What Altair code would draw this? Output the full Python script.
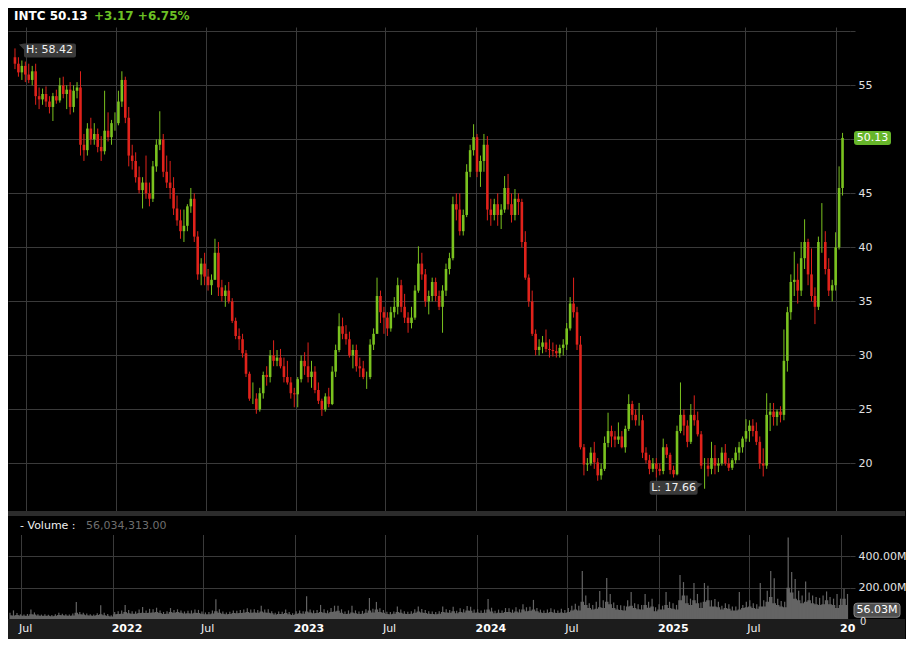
import altair as alt
import pandas as pd

# ---------------- data ----------------
ticker = "INTC"
last_price = 50.13
prev_close = 46.96
last_volume = 56034313
high_label = 58.42
low_label = 17.66
first_open = 57.6
first_week = "2021-06-07"   # Monday of the first weekly candle

close_2021 = [57.0, 56.2, 56.8, 56.0, 55.5, 56.3, 54.0, 53.7, 54.2, 53.5, 53.0, 54.0, 53.6, 55.0, 54.2,
              54.6, 53.0, 54.5, 54.8, 49.5, 49.0, 51.0, 50.0, 50.5, 49.3, 48.9, 50.8, 50.2, 51.5, 51.5]
high_2021 = [58.42, 57.6, 57.3, 57.2, 57.0, 56.8, 57.0, 54.8, 54.7, 54.9, 54.0, 54.3, 54.6, 55.7, 55.8,
             55.0, 55.3, 55.0, 55.3, 56.3, 50.5, 51.5, 52.0, 51.5, 51.0, 50.3, 54.5, 52.5, 51.8, 52.5]
low_2021 = [56.5, 55.8, 55.5, 55.3, 55.2, 55.0, 53.2, 52.8, 53.2, 53.0, 52.4, 51.7, 53.3, 53.4, 53.8,
            52.8, 52.3, 52.5, 53.8, 48.5, 48.0, 48.5, 49.5, 49.5, 48.8, 48.0, 48.6, 49.8, 49.5, 50.8]

close_2022 = [53.5, 55.5, 52.0, 48.5, 48.0, 46.5, 45.3, 46.0, 45.0, 44.5, 47.5, 49.5, 50.0, 47.0, 46.0,
              45.5, 43.6, 42.5, 41.5, 42.0, 43.8, 44.5, 41.0, 37.5, 38.5, 37.3, 36.5, 37.0, 39.5, 36.3,
              35.5, 36.0, 35.0, 33.2, 31.8, 31.5, 30.2, 28.3, 26.0, 26.0, 25.0, 26.5, 28.2, 28.0, 30.0,
              29.5, 29.8, 29.0, 28.0, 27.5, 26.5, 26.4]
high_2022 = [54.5, 56.3, 55.8, 53.0, 49.5, 48.8, 47.5, 46.5, 48.5, 46.0, 48.0, 50.0, 52.6, 50.5, 48.5,
             48.0, 46.5, 44.8, 43.5, 43.5, 44.0, 45.5, 45.0, 41.5, 39.0, 39.5, 38.0, 37.5, 40.8, 40.5,
             37.0, 36.5, 36.8, 35.3, 33.5, 32.5, 32.0, 30.5, 28.5, 27.5, 26.5, 27.0, 28.5, 29.0, 30.5,
             31.4, 30.5, 30.6, 29.8, 29.5, 28.0, 27.0]
low_2022 = [51.3, 53.0, 51.5, 47.5, 47.2, 46.0, 45.0, 43.6, 44.5, 43.8, 44.2, 47.0, 49.0, 46.5, 45.5,
            44.5, 43.0, 42.0, 40.8, 40.5, 41.5, 43.2, 40.5, 37.0, 36.5, 36.5, 36.0, 35.6, 37.0, 35.5,
            35.0, 34.5, 34.8, 33.0, 31.5, 30.5, 29.8, 28.0, 25.8, 25.5, 24.6, 24.8, 26.0, 27.2, 27.5,
            29.0, 29.0, 28.8, 27.5, 27.3, 26.0, 25.2]

close_2023 = [27.8, 29.5, 29.0, 28.0, 28.5, 26.8, 25.8, 25.0, 26.2, 25.5, 28.5, 30.5, 32.7, 32.0, 31.5,
              30.0, 30.5, 29.0, 28.8, 28.0, 28.0, 31.0, 32.0, 35.5, 34.0, 33.5, 32.5, 34.0, 34.5, 36.5,
              34.5, 33.5, 33.0, 33.5, 36.0, 38.5, 37.5, 35.0, 35.5, 36.8, 35.5, 34.5, 36.0, 38.0, 39.0,
              44.0, 43.5, 41.5, 43.0, 47.0, 49.0, 50.2]
high_2023 = [28.0, 30.0, 30.3, 31.2, 29.5, 29.0, 27.5, 26.0, 26.5, 27.0, 29.0, 31.0, 33.9, 33.5, 32.8,
             32.2, 31.0, 31.0, 29.8, 29.5, 28.5, 31.5, 32.5, 37.2, 36.0, 34.5, 34.0, 34.5, 35.4, 37.2,
             37.0, 35.7, 34.0, 34.5, 36.5, 40.1, 39.5, 38.0, 36.0, 37.2, 37.2, 36.0, 36.5, 38.5, 39.5,
             44.7, 45.0, 45.0, 43.5, 47.7, 49.5, 51.4]
low_2023 = [25.2, 27.5, 28.2, 27.5, 27.0, 26.5, 25.5, 24.4, 24.8, 25.2, 25.4, 28.0, 30.3, 31.5, 31.0,
            29.8, 28.8, 28.5, 28.0, 27.8, 26.9, 27.8, 30.5, 32.0, 33.0, 32.0, 31.8, 32.2, 33.5, 33.8,
            34.0, 33.0, 32.1, 32.5, 33.3, 35.8, 37.0, 34.5, 33.8, 35.0, 35.0, 34.2, 32.1, 35.5, 37.5,
            38.8, 42.5, 41.1, 41.1, 42.8, 46.5, 48.5]

close_2024 = [47.0, 48.0, 49.5, 43.5, 43.0, 44.0, 43.0, 43.5, 45.5, 44.0, 43.0, 44.5, 44.2, 40.5, 37.2,
              35.0, 32.0, 30.5, 30.8, 31.2, 30.6, 30.5, 30.4, 30.2, 30.7, 31.0, 32.5, 34.8, 34.0, 31.0,
              21.5, 19.9, 20.0, 21.0, 20.1, 18.9, 19.5, 21.9, 23.0, 22.5, 22.2, 22.5, 21.5, 23.2, 25.5,
              24.5, 24.0, 24.0, 21.0, 20.3, 19.5, 20.0, 19.5]
high_2024 = [50.5, 48.5, 50.5, 50.3, 44.5, 44.5, 45.0, 44.0, 46.6, 46.8, 45.0, 45.4, 45.0, 44.5, 41.5,
             37.5, 36.0, 32.4, 31.5, 31.8, 32.4, 31.5, 31.2, 31.0, 31.0, 31.5, 33.0, 35.4, 37.2, 34.5,
             31.8, 21.8, 20.5, 21.5, 22.0, 20.5, 20.0, 22.5, 24.7, 23.5, 23.0, 23.8, 23.0, 23.5, 26.4,
             25.8, 25.0, 25.6, 24.5, 21.5, 20.8, 20.5, 20.5]
low_2024 = [46.5, 45.6, 47.0, 42.5, 42.0, 42.5, 42.0, 41.7, 43.2, 43.5, 42.3, 42.5, 43.0, 40.0, 37.0,
            34.5, 31.8, 30.0, 30.0, 30.2, 30.3, 29.8, 29.9, 29.8, 29.8, 30.0, 30.5, 32.3, 33.5, 30.5,
            21.3, 18.9, 19.3, 19.8, 19.5, 18.4, 18.5, 19.3, 21.5, 21.5, 21.5, 21.8, 21.4, 21.0, 23.0,
            24.0, 23.5, 23.5, 20.5, 20.0, 19.0, 19.2, 18.7]

close_2025 = [19.3, 21.5, 20.8, 19.4, 19.0, 23.0, 24.5, 23.5, 22.0, 24.5, 24.0, 22.7, 19.8, 19.8, 19.5,
              20.5, 19.8, 20.0, 21.0, 20.0, 19.6, 20.3, 21.0, 21.5, 22.3, 23.0, 23.5, 23.0, 22.0, 20.0,
              19.8, 24.5, 24.8, 24.3, 24.8, 24.5, 29.5, 34.0, 36.8, 37.0, 36.0, 39.0, 40.5, 37.5, 35.5,
              34.5, 40.5, 40.5, 38.0, 36.0, 36.5, 40.0]
high_2025 = [20.0, 22.3, 21.8, 21.0, 19.8, 23.5, 27.5, 25.0, 24.0, 25.5, 26.3, 24.8, 23.0, 20.5, 20.5,
             22.0, 21.7, 20.5, 21.5, 21.8, 20.5, 20.5, 21.5, 22.0, 22.5, 24.1, 24.0, 24.1, 23.8, 22.5,
             21.4, 26.5, 25.6, 25.6, 25.0, 25.3, 32.4, 34.5, 37.5, 39.6, 38.5, 40.5, 42.6, 40.8, 39.9,
             36.3, 41.0, 44.1, 41.5, 39.0, 37.0, 41.4]
low_2025 = [18.9, 19.0, 20.5, 19.0, 18.7, 18.9, 22.8, 22.6, 21.5, 21.8, 23.5, 22.5, 19.5, 17.66, 18.8,
            19.0, 19.0, 19.2, 19.8, 19.8, 19.3, 19.4, 20.0, 20.3, 21.0, 22.0, 22.0, 22.5, 21.7, 19.5,
            18.8, 19.5, 23.0, 23.5, 23.5, 23.8, 24.0, 28.5, 33.3, 35.5, 34.8, 35.5, 38.0, 36.5, 35.0,
            32.9, 34.2, 39.5, 37.5, 35.5, 35.0, 36.0]

close_2026 = [45.5, 50.13]
high_2026 = [47.5, 50.6]
low_2026 = [39.8, 44.8]

# weekly volume in millions: typical daily level and the largest daily spike
vol_base_2021 = [24, 22, 26, 22, 20, 21, 30, 28, 22, 20, 21, 20, 18, 20, 26, 24, 22, 20, 22, 40,
                 30, 28, 24, 22, 20, 26, 30, 24, 20, 16]
vol_peak_2021 = [40, 55, 38, 30, 28, 32, 60, 42, 30, 28, 30, 27, 26, 30, 40, 34, 30, 28, 35, 109,
                 45, 40, 35, 30, 28, 36, 88, 40, 32, 24]
vol_base_2022 = [30, 32, 34, 45, 36, 34, 33, 38, 40, 38, 40, 42, 45, 38, 32, 34, 45, 40, 45, 40,
                 35, 36, 35, 40, 38, 34, 30, 30, 35, 50, 40, 34, 30, 32, 38, 36, 38, 40, 45, 40,
                 42, 40, 48, 42, 40, 36, 28, 32, 32, 38, 30, 25]
vol_peak_2022 = [45, 50, 55, 90, 58, 50, 48, 60, 77, 55, 65, 62, 72, 55, 45, 50, 70, 58, 62, 55,
                 48, 52, 55, 60, 58, 48, 42, 44, 55, 126, 62, 48, 42, 46, 55, 52, 58, 60, 68, 60,
                 62, 58, 85, 60, 62, 50, 40, 48, 46, 60, 44, 36]
vol_base_2023 = [34, 36, 34, 48, 42, 36, 38, 45, 40, 36, 45, 48, 52, 40, 32, 34, 42, 36, 32, 34,
                 40, 55, 42, 60, 45, 40, 32, 30, 33, 45, 40, 34, 32, 34, 40, 48, 42, 38, 34, 32,
                 30, 34, 45, 42, 40, 50, 36, 45, 42, 55, 52, 40]
vol_peak_2023 = [50, 55, 50, 145, 60, 55, 58, 90, 62, 55, 70, 85, 85, 62, 48, 55, 85, 55, 48, 52,
                 62, 134, 65, 109, 68, 58, 46, 44, 48, 80, 60, 50, 46, 50, 62, 80, 64, 58, 50, 48,
                 44, 50, 80, 62, 58, 78, 52, 68, 62, 83, 78, 60]
vol_base_2024 = [42, 38, 40, 60, 48, 36, 40, 38, 45, 44, 40, 48, 42, 60, 50, 52, 60, 50, 42, 38,
                 40, 45, 40, 38, 42, 38, 45, 55, 60, 55, 110, 90, 70, 60, 65, 75, 70, 110, 95, 70,
                 60, 58, 55, 80, 85, 70, 62, 60, 90, 72, 80, 50, 60]
vol_peak_2024 = [62, 55, 60, 128, 72, 52, 60, 55, 70, 68, 60, 75, 62, 95, 75, 78, 122, 70, 60, 55,
                 60, 68, 60, 55, 65, 58, 70, 85, 98, 85, 307, 150, 100, 90, 110, 179, 120, 262, 160, 105,
                 90, 88, 85, 120, 172, 100, 95, 90, 160, 110, 130, 75, 95]
vol_base_2025 = [60, 90, 70, 65, 60, 120, 150, 100, 90, 120, 100, 70, 110, 120, 80, 80, 75, 60, 70, 65,
                 55, 55, 60, 70, 75, 80, 70, 65, 80, 80, 110, 140, 100, 90, 80, 75, 200, 170, 130, 120,
                 100, 110, 120, 100, 95, 90, 95, 120, 95, 90, 70, 90]
vol_peak_2025 = [85, 172, 110, 100, 90, 281, 236, 150, 130, 230, 160, 105, 230, 213, 120, 128, 110, 85, 100, 95,
                 80, 80, 172, 90, 110, 120, 100, 95, 230, 120, 180, 307, 260, 130, 115, 110, 520, 300, 255, 180,
                 150, 240, 170, 150, 140, 135, 150, 176, 140, 130, 160, 130]
vol_base_2026 = [130, 90]
vol_peak_2026 = [194, 160]

month_labels = ["Jul", "Jul", "Jul", "Jul", "Jul"]
month_label_dates = ["2021-07-01", "2022-07-01", "2023-07-01", "2024-07-01", "2025-07-01"]
year_labels = ["2022", "2023", "2024", "2025"]
year_label_dates = ["2022-01-01", "2023-01-01", "2024-01-01", "2025-01-01"]
edge_year_label = "2026"            # cut off at the right edge of the plot, as in the reference
edge_year_date = "2026-01-01"
price_ticks = [20, 25, 30, 35, 40, 45, 50, 55, 60]
volume_ticks = [200, 400]
volume_zero_label = "0"

# ---------------- assemble ----------------
close = close_2021 + close_2022 + close_2023 + close_2024 + close_2025 + close_2026
high = high_2021 + high_2022 + high_2023 + high_2024 + high_2025 + high_2026
low = low_2021 + low_2022 + low_2023 + low_2024 + low_2025 + low_2026
vol_base = vol_base_2021 + vol_base_2022 + vol_base_2023 + vol_base_2024 + vol_base_2025 + vol_base_2026
vol_peak = vol_peak_2021 + vol_peak_2022 + vol_peak_2023 + vol_peak_2024 + vol_peak_2025 + vol_peak_2026
n = len(close)
assert len(high) == n and len(low) == n and len(vol_base) == n and len(vol_peak) == n

weeks = pd.date_range(first_week, periods=n, freq="W-MON")
df = pd.DataFrame({
    "date": (weeks + pd.Timedelta(days=2)).strftime("%Y-%m-%d"),
    "open": [first_open] + close[:-1],
    "high": high,
    "low": low,
    "close": close,
    "vol_base": vol_base,
    "vol_peak": vol_peak,
})

i_hi = high.index(max(high))
i_lo = low.index(min(low))
hi_df = pd.DataFrame({"date": [df["date"][i_hi]], "p": [high_label], "t": [f"H: {high_label:.2f}"]})
lo_df = pd.DataFrame({"date": [df["date"][i_lo]], "p": [low_label], "t": [f"L: {low_label:.2f}"]})
last_df = pd.DataFrame({"p": [last_price], "t": [f"{last_price:.2f}"]})
lastvol_df = pd.DataFrame({"v": [last_volume / 1e6], "t": [f"{last_volume / 1e6:.2f}M"]})
month_df = pd.DataFrame({"date": month_label_dates, "t": month_labels})
year_df = pd.DataFrame({"date": year_label_dates, "t": year_labels})
edge_df = pd.DataFrame({"date": [edge_year_date], "t": [edge_year_label]})
one = pd.DataFrame({"k": [0]})

change = last_price - prev_close
pct = change / prev_close * 100

# ---------------- style ----------------
W = 842
H_PRICE = 484
H_VOL = 108
BAND = 20
FONT = "DejaVu Sans"
GRID = "#3a3a3a"
LABEL = "#e2e2e2"
GREEN = "#7ac21f"
RED = "#e0221b"
VOLC = "#646464"

grid_dt = [alt.DateTime(year=int(s[:4]), month=int(s[5:7]), date=1)
           for s in sorted(month_label_dates + year_label_dates + [edge_year_date])]
x_scale = alt.Scale(domain=[alt.DateTime(year=2021, month=6, date=5),
                            alt.DateTime(year=2026, month=1, date=19)])
x_axis = alt.Axis(values=grid_dt, grid=True, gridColor=GRID, gridWidth=1, labels=False,
                  ticks=False, domain=False, title=None)
X = alt.X("date:T", scale=x_scale, axis=x_axis)

price_scale = alt.Scale(domain=[15.6, 60.4], nice=False, zero=False)
# the label under the last-price badge is hidden by the badge, as in the reference
price_axis = alt.Axis(orient="right", values=price_ticks, grid=True, gridColor=GRID,
                      labelExpr=f"datum.value >= 60 || abs(datum.value - {last_price}) < 0.8 ? '' : datum.label",
                      domain=False, ticks=True, tickColor=GRID, tickSize=5, labelPadding=3,
                      labelColor=LABEL, labelFont=FONT, labelFontSize=11, title=None)


def PY(field):
    return alt.Y(f"{field}:Q", scale=price_scale, axis=price_axis)


candle_color = alt.condition("datum.close >= datum.open", alt.value(GREEN), alt.value(RED))

wick = alt.Chart(df).mark_rule(strokeWidth=1).encode(x=X, y=PY("low"), y2="high:Q", color=candle_color)
body = alt.Chart(df).mark_bar(width=2.6).encode(x=X, y=PY("open"), y2="close:Q", color=candle_color)

title_main = alt.Chart(one).mark_text(align="left", baseline="middle", font=FONT, fontSize=12,
                                      fontWeight="bold", color="#ffffff").encode(
    x=alt.value(6), y=alt.value(-11), text=alt.value(f"{ticker} {last_price:.2f}"))
title_chg = alt.Chart(one).mark_text(align="left", baseline="middle", font=FONT, fontSize=12,
                                     fontWeight="bold", color="#6cc024").encode(
    x=alt.value(86), y=alt.value(-11), text=alt.value(f"+{change:.2f} +{pct:.2f}%"))

HI_PATH = "M4,-4 L9,-5 L59,-5 Q61,-5 61,-3 L61,7 Q61,9 59,9 L11,9 Q9,9 9,7 L9,1 Z"
LO_PATH = "M-2,-5 L-7,-1 L-7,4 Q-7,6 -9,6 L-53,6 Q-55,6 -55,4 L-55,-6 Q-55,-8 -53,-8 L-9,-8 Q-7,-8 -7,-6 Z"
LAST_PATH = "M3,-7 L34,-7 Q37,-7 37,-4 L37,4 Q37,7 34,7 L3,7 Q0,7 0,4 L0,-4 Q0,-7 3,-7 Z"
VOL_PATH = "M3,-7 L43,-7 Q46,-7 46,-4 L46,4 Q46,7 43,7 L3,7 Q0,7 0,4 L0,-4 Q0,-7 3,-7 Z"

hi_box = alt.Chart(hi_df).mark_point(shape=HI_PATH, size=4, filled=True, color="#3d3d3d",
                                     opacity=0.95, strokeWidth=0).encode(x=X, y=PY("p"))
hi_txt = alt.Chart(hi_df).mark_text(align="left", baseline="middle", dx=11, dy=2, font=FONT,
                                    fontSize=11, color="#f0f0f0").encode(x=X, y=PY("p"), text="t:N")
lo_box = alt.Chart(lo_df).mark_point(shape=LO_PATH, size=4, filled=True, color="#3d3d3d",
                                     opacity=0.95, strokeWidth=0).encode(x=X, y=PY("p"))
lo_txt = alt.Chart(lo_df).mark_text(align="center", baseline="middle", dx=-31, dy=-1, font=FONT,
                                    fontSize=11, color="#f0f0f0").encode(x=X, y=PY("p"), text="t:N")
last_box = alt.Chart(last_df).mark_point(shape=LAST_PATH, size=4, filled=True, color="#66b52a",
                                         opacity=1, strokeWidth=0).encode(x=alt.value(W + 4), y=PY("p"))
last_txt = alt.Chart(last_df).mark_text(align="center", baseline="middle", font=FONT, fontSize=11,
                                        color="#ffffff").encode(x=alt.value(W + 22.5), y=PY("p"), text="t:N")

price = alt.layer(wick, body, title_main, title_chg, hi_box, hi_txt, lo_box, lo_txt,
                  last_box, last_txt).properties(width=W, height=H_PRICE)

# ---------------- volume panel ----------------
vol_scale = alt.Scale(domain=[0, 690], nice=False, zero=True)
vol_axis = alt.Axis(orient="right", values=volume_ticks, grid=True, gridColor=GRID,
                    labelExpr="format(datum.value, '.2f') + 'M'",
                    domain=False, ticks=True, tickColor=GRID, tickSize=5, labelPadding=3,
                    labelColor=LABEL, labelFont=FONT, labelFontSize=11, title=None)


def VY(field):
    return alt.Y(f"{field}:Q", scale=vol_scale, axis=vol_axis)


vol_area = alt.Chart(df).mark_area(interpolate="step", color=VOLC).encode(x=X, y=VY("vol_base"))
vol_spike = alt.Chart(df).mark_rule(color=VOLC, strokeWidth=1.2).encode(
    x=X, y=VY("vol_peak"), y2=alt.value(H_VOL))

sep = alt.Chart(one).mark_rect(color="#2c2c2c").encode(
    x=alt.value(0), x2=alt.value(W + 55), y=alt.value(0), y2=alt.value(5))
header_bg = alt.Chart(one).mark_rect(color="#000000").encode(
    x=alt.value(0), x2=alt.value(W), y=alt.value(5), y2=alt.value(24))
hdr1 = alt.Chart(one).mark_text(align="left", baseline="middle", font=FONT, fontSize=11,
                                color="#f0f0f0").encode(x=alt.value(12), y=alt.value(15),
                                                        text=alt.value("- Volume :"))
hdr2 = alt.Chart(one).mark_text(align="left", baseline="middle", font=FONT, fontSize=11,
                                color="#6e6e6e").encode(x=alt.value(78), y=alt.value(15),
                                                        text=alt.value(f"{last_volume:,.2f}"))
zero_txt = alt.Chart(one).mark_text(align="left", baseline="middle", font=FONT, fontSize=10,
                                    color=LABEL).encode(x=alt.value(W + 10), y=alt.value(H_VOL + 3),
                                                        text=alt.value(volume_zero_label))
vbox = alt.Chart(lastvol_df).mark_point(shape=VOL_PATH, size=4, filled=True, color="#505050",
                                        opacity=1, stroke="#8a8a8a", strokeWidth=1).encode(
    x=alt.value(W + 4), y=VY("v"))
vtxt = alt.Chart(lastvol_df).mark_text(align="center", baseline="middle", font=FONT, fontSize=11,
                                       color="#ffffff").encode(x=alt.value(W + 27), y=VY("v"), text="t:N")
band = alt.Chart(one).mark_rect(color="#1c1c1c").encode(
    x=alt.value(0), x2=alt.value(W + 55), y=alt.value(H_VOL), y2=alt.value(H_VOL + BAND))
mon_txt = alt.Chart(month_df).mark_text(align="left", baseline="middle", dx=-2, font=FONT, fontSize=11,
                                        color="#f2f2f2").encode(x=X, y=alt.value(H_VOL + 10), text="t:N")
yr_txt = alt.Chart(year_df).mark_text(align="left", baseline="middle", dx=-1, font=FONT, fontSize=11,
                                      fontWeight="bold", color="#ffffff").encode(
    x=X, y=alt.value(H_VOL + 10), text="t:N")
edge_txt = alt.Chart(edge_df).mark_text(align="left", baseline="middle", dx=-1, font=FONT, fontSize=11,
                                        fontWeight="bold", color="#ffffff", limit=19.5, ellipsis=" ").encode(
    x=X, y=alt.value(H_VOL + 10), text="t:N")

volume = alt.layer(vol_area, vol_spike, sep, header_bg, hdr1, hdr2, vbox, vtxt, band,
                   zero_txt, mon_txt, yr_txt, edge_txt).properties(width=W, height=H_VOL)

chart = alt.vconcat(price, volume, spacing=0).properties(
    background="#000000",
    padding={"left": 0, "top": 2, "right": 0, "bottom": 0},
).configure_view(strokeWidth=0)

chart.save("out.html", embed_options={"renderer": "svg", "actions": False})
